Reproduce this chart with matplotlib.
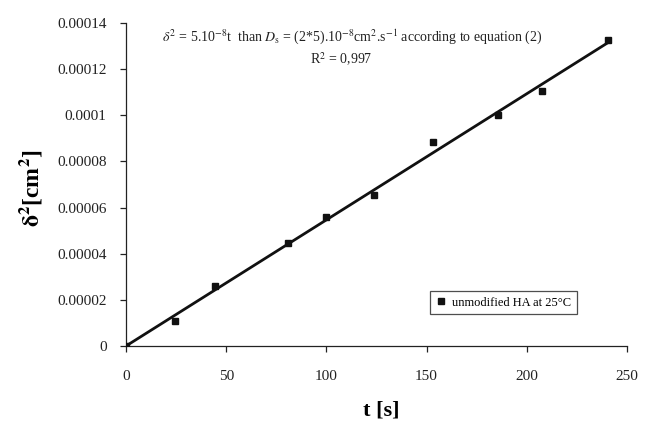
import numpy as np
import matplotlib
matplotlib.use("Agg")
import matplotlib.pyplot as plt

plt.rcParams['font.family'] = ['Liberation Serif', 'DejaVu Serif']
plt.rcParams['mathtext.fontset'] = 'stix'

t_s = [0, 24.5, 44.5, 81, 100, 124, 153, 185.5, 207.5, 240.5]
delta2 = [0, 1.08e-5, 2.6e-5, 4.46e-5, 5.59e-5, 6.54e-5, 8.84e-5, 1.001e-4, 1.105e-4, 1.326e-4]
x_ticks = [0, 50, 100, 150, 200, 250]
y_ticks = [0, 0.00002, 0.00004, 0.00006, 0.00008, 0.0001, 0.00012, 0.00014]
y_tick_labels = ['0', '0.00002', '0.00004', '0.00006', '0.00008', '0.0001', '0.00012', '0.00014']
series_label = 'unmodified HA at 25°C'

t = np.array(t_s)
d = np.array(delta2)
slope = np.sum(t * d) / np.sum(t * t)
fit_x = np.array([0, t.max()])

fig = plt.figure(figsize=(6.55, 4.22), dpi=100)
ax = fig.add_axes([126/655, 1-346/422, (627-126)/655, (346-23)/422])

ax.plot(fit_x, slope * fit_x, color='#111111', lw=2.0, zorder=2)
ax.plot(t, d, ls='none', marker='s', ms=5, color='#111111', label=series_label, zorder=3)

ax.set_xlim(0, 250)
ax.set_ylim(0, 0.00014)
ax.set_xticks(x_ticks)
ax.set_yticks(y_ticks)
ax.set_yticklabels(y_tick_labels)
for s in ['top', 'right']:
    ax.spines[s].set_visible(False)
for s in ['left', 'bottom']:
    ax.spines[s].set_linewidth(0.9)
    ax.spines[s].set_color('#222222')
ax.tick_params(axis='both', direction='out', length=4, width=0.9, labelsize=11, colors='#222222')
ax.tick_params(axis='x', pad=13)
ax.tick_params(axis='y', pad=10)

ax.set_xlabel('t [s]', fontsize=16, fontweight='bold')
ax.xaxis.set_label_coords((381-126)/501, -(410-346)/323)
ax.xaxis.label.set_va('center')
ax.set_ylabel(r'$\mathbf{\delta^2}$[cm$^\mathbf{2}$]', fontsize=17, fontweight='bold')
ax.yaxis.set_label_coords((30-126)/501, (346-188)/323)
ax.yaxis.label.set_va('center')

ax.text(162/655, 1-37/422,
        r'$\delta^2$ = 5.10$^{-8}$t  than $D_{\rm s}$ = (2*5).10$^{-8}$cm$^2$.s$^{-1}$ according to equation (2)',
        transform=fig.transFigure, fontsize=10, va='center', ha='left', color='#222222')
ax.text(341/655, 1-59/422, r'R$^2$ = 0,997', transform=fig.transFigure,
        fontsize=10, va='center', ha='center', color='#222222')

leg = ax.legend(loc='upper left', bbox_to_anchor=((430-126)/501, (346-291)/323), fontsize=9,
                frameon=True, fancybox=False, shadow=False, edgecolor='#222222',
                handlelength=0.8, handletextpad=0.5, borderpad=0.45, markerscale=0.9,
                borderaxespad=0)
leg.get_frame().set_linewidth(0.9)

fig.savefig('out.png', dpi=100)
